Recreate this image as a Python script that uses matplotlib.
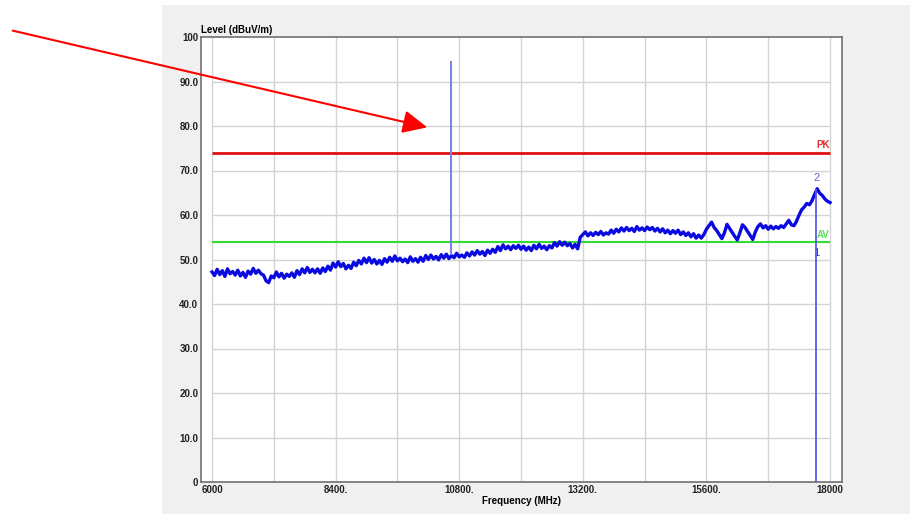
import numpy as np
import matplotlib
matplotlib.use('Agg')
import matplotlib.pyplot as plt
from matplotlib.patches import Rectangle, FancyArrowPatch

plt.rcParams['font.family'] = ['Liberation Sans Narrow', 'Liberation Sans', 'DejaVu Sans']

# trace, one value every 50 MHz from 6000 to 18000
freq_start = 6000
freq_step = 50
level = [
    47.2, 46.4, 47.8, 46.6, 47.5, 46.2, 47.9, 46.8, 47.3, 46.5,
    47.6, 46.3, 47.1, 46.0, 47.4, 46.7, 48.0, 46.9, 47.6, 46.8,
    46.5, 45.2, 44.8, 46.3, 45.9, 47.2, 46.1, 46.9, 45.8, 46.7,
    46.2, 47.0, 46.0, 47.5, 46.6, 47.9, 47.0, 48.2, 47.1, 47.8,
    47.0, 47.9, 46.9, 48.1, 47.3, 48.5, 47.6, 49.2, 48.3, 49.5,
    48.4, 49.1, 47.9, 48.7, 48.0, 49.4, 48.6, 49.8, 49.0, 50.3,
    49.3, 50.4, 49.2, 50.0, 49.0, 49.8, 48.9, 50.2, 49.4, 50.5,
    49.6, 50.8, 49.7, 50.3, 49.5, 50.1, 49.3, 50.6, 49.6, 50.2,
    49.4, 50.5, 49.6, 50.9, 50.0, 51.0, 50.1, 50.7, 49.9, 51.1,
    50.3, 51.2, 50.2, 50.9, 50.4, 51.4, 50.6, 51.0, 50.5, 51.5,
    50.8, 51.7, 51.0, 52.0, 51.2, 51.8, 50.9, 52.1, 51.4, 52.3,
    51.6, 52.9, 52.0, 53.3, 52.4, 53.0, 52.2, 53.1, 52.5, 53.2,
    52.3, 53.0, 52.1, 52.8, 52.0, 53.2, 52.4, 53.4, 52.5, 53.0,
    52.2, 53.1, 52.6, 53.8, 53.0, 54.0, 53.2, 53.9, 53.1, 53.6,
    52.6, 53.4, 52.4, 55.0, 55.6, 56.2, 55.3, 56.0, 55.4, 56.1,
    55.6, 56.3, 55.5, 56.0, 55.7, 56.6, 55.9, 56.8, 56.2, 57.1,
    56.4, 57.2, 56.5, 57.0, 56.3, 57.4, 56.6, 57.1, 56.5, 57.3,
    56.7, 57.2, 56.4, 57.0, 56.2, 56.9, 56.0, 56.6, 55.8, 56.5,
    55.9, 56.6, 55.6, 56.2, 55.4, 56.0, 55.1, 55.8, 54.8, 55.5,
    54.8, 55.6, 56.8, 57.6, 58.4, 57.2, 56.5, 55.6, 54.7, 56.0,
    57.9, 57.0, 56.1, 55.2, 54.4, 56.0, 57.8, 57.2, 56.3, 55.4,
    54.5, 56.2, 57.4, 58.0, 57.1, 57.6, 56.8, 57.5, 56.9, 57.4,
    57.0, 57.6, 57.2, 58.0, 58.8, 57.8, 57.6, 58.6, 60.0, 61.2,
    61.8, 62.6, 62.3, 63.2, 64.6, 65.9, 64.9, 64.4, 63.6, 63.1,
    62.8,
]
freq = freq_start + freq_step * np.arange(len(level))

pk_limit = 74
av_limit = 54
spike_freq = 10640
spike_range = (51.0, 94.5)
marker_freq = 17730
marker2_level = 65.9
marker1_level = 51.5

xticks = [6000, 8400, 10800, 13200, 15600, 18000]
xticklabels = ['6000', '8400.', '10800.', '13200.', '15600.', '18000']
yticks = [0, 10, 20, 30, 40, 50, 60, 70, 80, 90, 100]
yticklabels = ['0', '10.0', '20.0', '30.0', '40.0', '50.0', '60.0', '70.0', '80.0', '90.0', '100']

fig = plt.figure(figsize=(9.1, 5.14), dpi=100)
fig.patch.set_facecolor('white')
fig.patches.append(Rectangle((162 / 910, 0), 1, 1 - 5 / 514, transform=fig.transFigure,
                             facecolor='#f0f0f0', edgecolor='none', zorder=-5))

ax = fig.add_axes([201 / 910, 32 / 514, 641 / 910, 445 / 514])
ax.set_facecolor('white')
ax.set_xlim(5786, 18233)
ax.set_ylim(0, 100)

# grid
ax.vlines(np.arange(6000, 18001, 1200), 0, 100, color='#d4d4d4', lw=1, zorder=1)
ax.hlines(yticks[1:-1], 6000, 18000, color='#d4d4d4', lw=1, zorder=1)

ax.hlines(pk_limit, 6000, 18000, color='#e01010', lw=2, zorder=3)
ax.hlines(av_limit, 6000, 18000, color='#30dd30', lw=1.5, zorder=3)
ax.plot(freq, level, color='#0a0ae0', lw=2.4, zorder=4)
ax.vlines(spike_freq, *spike_range, color='#8080e8', lw=1.5, zorder=4)
ax.vlines(marker_freq, 0, marker2_level, color='#5a5ae8', lw=1.3, zorder=5)

ax.text(17990, pk_limit + 0.6, 'PK', color='#e03030', fontsize=7, fontweight='bold',
        ha='right', va='bottom')
ax.text(17990, av_limit + 0.4, 'AV', color='#60dd60', fontsize=7, fontweight='bold',
        ha='right', va='bottom')
ax.text(marker_freq, marker2_level + 1.2, '2', color='#6060d8', fontsize=8,
        ha='center', va='bottom')
ax.text(marker_freq, marker1_level, '1', color='#3030c0', fontsize=8,
        ha='center', va='center')

ax.set_xticks(xticks)
ax.set_xticklabels(xticklabels)
ax.set_yticks(yticks)
ax.set_yticklabels(yticklabels)
ax.tick_params(length=0, pad=2, labelsize=7, labelcolor='#222222')
for lab in ax.get_xticklabels() + ax.get_yticklabels():
    lab.set_fontweight('bold')
ax.set_xlabel('Frequency (MHz)', fontsize=7, fontweight='bold', labelpad=1)
ax.text(0.0, 1.005, 'Level (dBuV/m)', transform=ax.transAxes, fontsize=7,
        fontweight='bold', ha='left', va='bottom')
for s in ax.spines.values():
    s.set_color('#707070')
    s.set_linewidth(1.2)

# red arrow outside the plot
arrow = FancyArrowPatch((10 / 910, 1 - 30 / 514), (430 / 910, 1 - 128 / 514),
                        transform=fig.transFigure, arrowstyle='-|>,head_length=15,head_width=7',
                        color='#ff0000', lw=1.5, mutation_scale=1, zorder=10)
fig.patches.append(arrow)

fig.savefig('out.png', dpi=100)
